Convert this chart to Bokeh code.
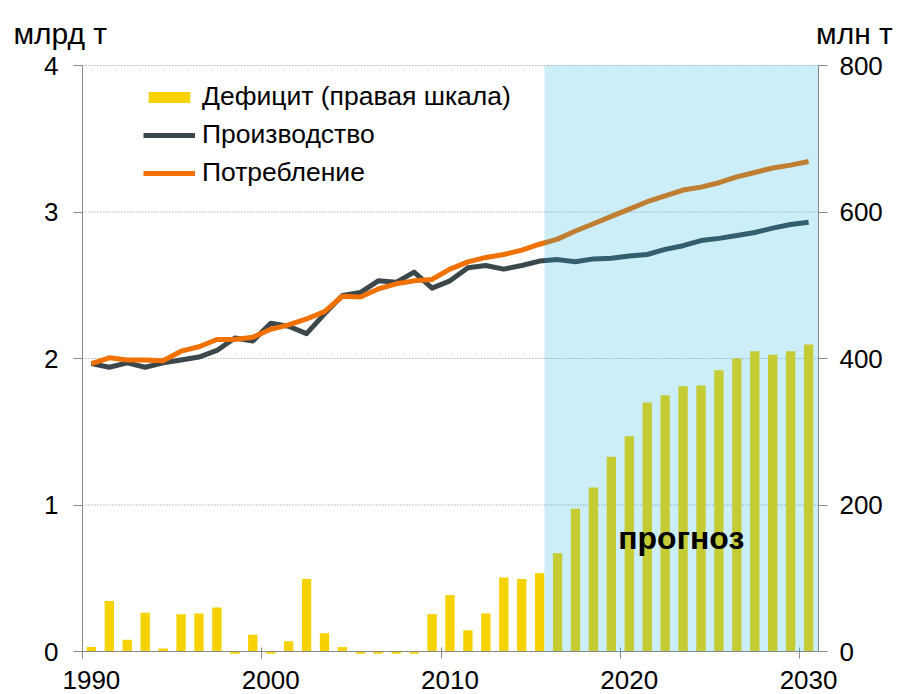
from bokeh.plotting import figure
from bokeh.models import (Range1d, LinearAxis, FixedTicker, BoxAnnotation, Label,
                          Legend, LegendItem, ColumnDataSource)
from bokeh.embed import file_html
from bokeh.resources import INLINE

# ---------------- data ----------------
years = list(range(1990, 2031))
production = [1.965, 1.94, 1.97, 1.94, 1.97, 1.99, 2.01, 2.055, 2.14, 2.12,
              2.24, 2.22, 2.17, 2.305, 2.43, 2.45, 2.53, 2.52, 2.59, 2.48,
              2.53, 2.62, 2.635, 2.61, 2.635, 2.665, 2.675, 2.66, 2.68, 2.685,
              2.70, 2.71, 2.745, 2.77, 2.805, 2.82, 2.84, 2.86, 2.89, 2.915,
              2.93]
consumption = [1.965, 2.005, 1.99, 1.99, 1.985, 2.05, 2.08, 2.13, 2.13, 2.145,
               2.20, 2.23, 2.27, 2.32, 2.425, 2.42, 2.475, 2.51, 2.53, 2.54,
               2.61, 2.66, 2.69, 2.71, 2.74, 2.78, 2.815, 2.87, 2.92, 2.97,
               3.02, 3.07, 3.11, 3.15, 3.17, 3.20, 3.24, 3.27, 3.30, 3.32,
               3.345]
deficit = [6, 69, 16, 53, 4, 51, 52, 60, -3, 23,
           -3, 14, 99, 25, 6, -3, -3, -3, -3, 51,
           77, 29, 52, 101, 99, 107, 134, 195, 224, 266,
           294, 340, 350, 362, 363, 384, 400, 410, 405, 410,
           419]
forecast_start = 2015.27
left_ticks = [0, 1, 2, 3, 4]
right_ticks = [0, 200, 400, 600, 800]
year_ticks = [1990, 2000, 2010, 2020, 2030]
legend_labels = ["Дефицит (правая шкала)", "Производство", "Потребление"]
left_unit = "млрд т"
right_unit = "млн т"
forecast_text = "прогноз"

# plotting area bounds (data units)
X_LEFT, X_RIGHT = 1989.5, 2030.55
Y_BOTTOM, Y_TOP = 0, 4
R_TOP = 800

FONT = "Liberation Sans"
AXIS_COLOR = "#898989"

src = ColumnDataSource(dict(year=years, production=production,
                            consumption=consumption, deficit=deficit))

p = figure(width=897, height=694, output_backend="svg", toolbar_location=None,
           x_range=Range1d(1984.93, 2034.96), y_range=Range1d(-0.2935, 4.4437))
p.min_border = 0
p.min_border_left = 0
p.min_border_right = 0
p.min_border_top = 0
p.min_border_bottom = 0
p.extra_y_ranges = {"right": Range1d(-58.7, 888.74)}
p.outline_line_color = None
p.background_fill_color = "white"
p.border_fill_color = "white"
p.xgrid.visible = False
p.ygrid.visible = False

# dotted horizontal grid lines
grid_levels = left_ticks[1:]
p.segment(x0=[X_LEFT] * len(grid_levels), x1=[X_RIGHT] * len(grid_levels),
          y0=grid_levels, y1=grid_levels, line_color="#8c8c8c", line_dash="1 2",
          line_width=1)

# left axis
ya = p.yaxis[0]
ya.ticker = FixedTicker(ticks=left_ticks, minor_ticks=[])
ya.fixed_location = X_LEFT
ya.bounds = (Y_BOTTOM, Y_TOP)
right_axis = LinearAxis(y_range_name="right", fixed_location=X_RIGHT,
                        bounds=(0, R_TOP),
                        ticker=FixedTicker(ticks=right_ticks, minor_ticks=[]))
p.add_layout(right_axis, "right")
for ax, st in ((ya, 15), (right_axis, 12)):
    ax.axis_line_color = AXIS_COLOR
    ax.major_tick_line_color = AXIS_COLOR
    ax.major_tick_out = 9
    ax.major_tick_in = 0
    ax.minor_tick_line_color = None
    ax.major_label_standoff = st
    ax.major_label_text_font = FONT
    ax.major_label_text_font_size = "26px"
    ax.major_label_text_color = "black"

# bottom axis: labels centered on years, tick marks between categories
xa = p.xaxis[0]
xa.ticker = FixedTicker(ticks=year_ticks, minor_ticks=[y - 0.5 for y in year_ticks])
xa.fixed_location = Y_BOTTOM
xa.bounds = (X_LEFT, X_RIGHT)
xa.axis_line_color = AXIS_COLOR
xa.major_tick_line_color = None
xa.major_tick_out = 0
xa.major_tick_in = 0
xa.minor_tick_line_color = AXIS_COLOR
xa.minor_tick_out = 7
xa.minor_tick_in = 4
xa.major_label_standoff = 12
xa.major_label_text_font = FONT
xa.major_label_text_font_size = "26px"
xa.major_label_text_color = "black"

# glyphs
bars = p.vbar(x="year", top="deficit", width=0.52, source=src, y_range_name="right",
              fill_color="#F6D200", line_color=None)
prod = p.line("year", "production", source=src, line_width=5, line_color="#3C474C",
              line_join="round")
cons = p.line("year", "consumption", source=src, line_width=5, line_color="#F07000",
              line_join="round")

# forecast shading (semi-transparent, on top of the series)
p.add_layout(BoxAnnotation(left=forecast_start, right=X_RIGHT, bottom=Y_BOTTOM,
                           top=Y_TOP, fill_color="#17B1E3", fill_alpha=0.22,
                           line_color=None))
p.add_layout(Label(x=2022.9, y=0.778, text=forecast_text, text_font=FONT,
                   text_font_size="32px", text_font_style="bold", text_color="black",
                   text_align="center", text_baseline="alphabetic", level="overlay"))

# unit labels
p.add_layout(Label(x=1985.65, y=4.218, text=left_unit, text_font=FONT,
                   text_font_size="30px", text_color="black", text_align="left",
                   text_baseline="alphabetic"))
p.add_layout(Label(x=2034.7, y=4.218, text=right_unit, text_font=FONT,
                   text_font_size="30px", text_color="black", text_align="right",
                   text_baseline="alphabetic"))

legend = Legend(items=[LegendItem(label=legend_labels[0], renderers=[bars]),
                       LegendItem(label=legend_labels[1], renderers=[prod]),
                       LegendItem(label=legend_labels[2], renderers=[cons])],
                location=(143, 506), orientation="vertical",
                label_text_font=FONT, label_text_font_size="26.5px",
                label_text_color="black", label_standoff=7,
                glyph_width=52, glyph_height=14, label_height=30, spacing=7,
                padding=0, margin=0, border_line_color=None,
                background_fill_alpha=0)
p.add_layout(legend)

open("out.html", "w").write(file_html(p, INLINE))
